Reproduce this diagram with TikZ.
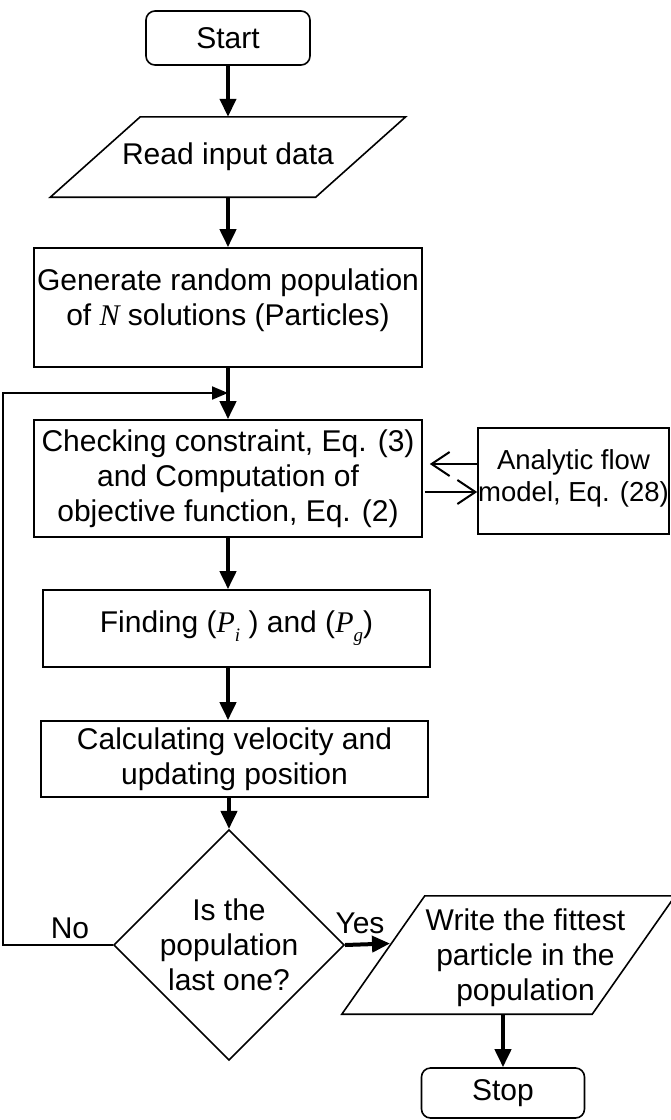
\documentclass[tikz,border=0pt]{standalone}
\usepackage{fontspec}
\setmainfont{Liberation Sans}
\newfontfamily\tms{Liberation Serif}
\usetikzlibrary{arrows.meta,shapes.geometric}
\newcommand{\ivar}[1]{{\tms\itshape #1}}
\newcommand{\isub}[1]{\raisebox{-0.3em}{\fontsize{19}{19}\selectfont\tms\itshape #1}}
\begin{document}
\begin{tikzpicture}[x=1pt,y=-1pt,
  font=\fontsize{30}{35}\selectfont,
  box/.style={draw, line width=1.6pt, align=center, inner sep=0pt},
  term/.style={box, rounded corners=9pt},
  paraspot/.style={rectangle, inner sep=0pt, align=center},
  dec/.style={diamond, draw, line width=1.6pt, inner sep=0pt, align=center},
  flow/.style={line width=4pt, -{Triangle[length=18pt,width=16pt]}},
  loopline/.style={line width=2pt, -{Triangle[length=16pt,width=13pt]}},
  barb/.style={line width=2pt, -{Straight Barb[length=18pt,width=24pt]}},
  outline/.style={line width=1.6pt, line join=miter}
]
\useasboundingbox (0,0) rectangle (670,1120);

\node[term, minimum width=164pt, minimum height=54pt] (start) at (228,38) {Start};
\node[paraspot, minimum width=265pt, minimum height=80pt] (read) at (228,157) {Read input data};
\draw[outline] ([xshift=-45pt]read.south west) -- ([xshift=45pt]read.north west) -- ([xshift=45pt]read.north east) -- ([xshift=-45pt]read.south east) -- cycle;
\node[box, minimum width=388pt, minimum height=119pt] (gen) at (228,307.5) {Generate random population\\of \ivar{N} solutions (Particles)\rule[-20pt]{0pt}{0pt}};
\node[box, minimum width=388pt, minimum height=117pt] (chk) at (228,478.5) {Checking constraint, Eq. (3)\\and Computation of\\objective function, Eq. (2)};
\node[box, minimum width=191pt, minimum height=106pt, font=\fontsize{27.5}{32}\selectfont] (ana) at (573.5,481) {Analytic flow\\model, Eq. (28)\rule[-10pt]{0pt}{0pt}};
\node[box, minimum width=387pt, minimum height=77pt] (find) at (236.5,628.5) {Finding (\ivar{P}\isub{i} ) and (\ivar{P}\isub{g})};
\node[box, minimum width=387pt, minimum height=76pt] (calc) at (234.5,759) {Calculating velocity and\\updating position};
\node[dec, minimum width=216pt, minimum height=188pt] (dec) at (229,945) {Is the\\population\\last one?};
\node[paraspot, minimum width=250pt, minimum height=118pt] (write) at (508.5,955) {};
\draw[outline] ([xshift=-41.5pt]write.south west) -- ([xshift=41.5pt]write.north west) -- ([xshift=41.5pt]write.north east) -- ([xshift=-41.5pt]write.south east) -- cycle;
\node[paraspot] (writetxt) at ([xshift=17pt,yshift=-3pt]write.center) {Write the fittest\\particle in the\\population};
\node[term, minimum width=163pt, minimum height=50pt] (stop) at (503,1093) {Stop};

% connectors
\draw[flow] (start) -- (read);
\draw[flow] (read) -- (gen);
\draw[flow] (gen) -- (chk);
\draw[flow] (chk.south) -- (chk.south |- find.north);
\draw[flow] (find.south -| chk.south) -- (calc.north -| chk.south);
\draw[flow] (calc.south -| dec.north) -- (dec.north);

\coordinate (j) at (228,393);
\draw[loopline] (dec.west) -- ++(-110,0) |- (j);
\node (no) at (70,928) {No};

\coordinate (wl) at (390,943.5);
\draw[flow] (dec.east) -- (wl);
\node (yes) at (360,923) {Yes};

\draw[flow] (write.south -| stop.north) -- (stop.north);

\path ([yshift=17pt]ana.west) coordinate (a1) ([xshift=7pt]chk.east) coordinate (c1);
\path ([yshift=-11pt]ana.west) coordinate (a2) ([xshift=2pt]chk.east) coordinate (c2);
\draw[barb] (a1) -- (c1 |- a1);
\draw[barb] (c2 |- a2) -- (a2);
\end{tikzpicture}
\end{document}
